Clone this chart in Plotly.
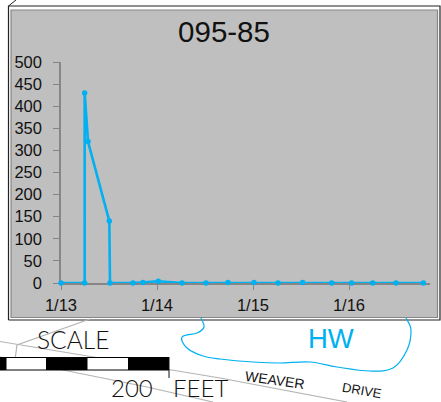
import plotly.graph_objects as go

W, H = 441, 402
TITLE = "095-85"
times = ["2016-01-13 00:00", "2016-01-13 05:55", "2016-01-13 05:55", "2016-01-13 06:45",
         "2016-01-13 12:05", "2016-01-13 12:15", "2016-01-13 18:00", "2016-01-13 20:30",
         "2016-01-14 00:20", "2016-01-14 06:15", "2016-01-14 12:15", "2016-01-14 17:45",
         "2016-01-15 00:15", "2016-01-15 06:15", "2016-01-15 12:25", "2016-01-15 19:40",
         "2016-01-16 00:40", "2016-01-16 05:55", "2016-01-16 11:45", "2016-01-16 18:35"]
values = [0, 0, 430, 320, 140, 0, 0, 1, 4, 0, 0, 1, 1, 0, 1, 0, 0, 0, 0, 0]
x_tick_vals = ["2016-01-13", "2016-01-14", "2016-01-15", "2016-01-16"]
x_tick_text = ["1/13", "1/14", "1/15", "1/16"]
y_tick_vals = [0, 50, 100, 150, 200, 250, 300, 350, 400, 450, 500]

BLUE = "#00B0F0"
GREY = "#BFBFBF"
AXIS = "#868686"
ROAD = "#B4B4B4"
FONT = "Liberation Sans"

px = lambda x: x / W
py = lambda y: 1 - y / H


def rect(x0, y0, x1, y1, fill="rgba(0,0,0,0)", line=None, lw=1, layer="above"):
    return dict(type="rect", xref="paper", yref="paper", x0=px(x0), x1=px(x1), y0=py(y0), y1=py(y1),
                fillcolor=fill, line=dict(color=line or "rgba(0,0,0,0)", width=lw if line else 0), layer=layer)


def seg(pts, color=ROAD, lw=1.2, layer="above"):
    d = "M " + " L ".join(f"{px(x):.5f} {py(y):.5f}" for x, y in pts)
    return dict(type="path", xref="paper", yref="paper", path=d, line=dict(color=color, width=lw), layer=layer)


def smooth(pts, color, lw):
    p = [pts[0]] + pts + [pts[-1]]
    d = f"M {px(pts[0][0]):.5f} {py(pts[0][1]):.5f}"
    for i in range(1, len(p) - 2):
        c1 = (p[i][0] + (p[i + 1][0] - p[i - 1][0]) / 6, p[i][1] + (p[i + 1][1] - p[i - 1][1]) / 6)
        c2 = (p[i + 1][0] - (p[i + 2][0] - p[i][0]) / 6, p[i + 1][1] - (p[i + 2][1] - p[i][1]) / 6)
        d += (f" C {px(c1[0]):.5f} {py(c1[1]):.5f} {px(c2[0]):.5f} {py(c2[1]):.5f}"
              f" {px(p[i + 1][0]):.5f} {py(p[i + 1][1]):.5f}")
    return dict(type="path", xref="paper", yref="paper", path=d, line=dict(color=color, width=lw), layer="above")


outline = [(201, 318), (204, 327), (197, 333), (182, 337), (187, 348), (203, 356), (220, 359),
           (253, 362), (280, 363), (310, 362), (337, 367), (370, 371), (393, 368), (407, 350),
           (411, 330), (406, 318)]

shapes = [
    seg([(8.5, 6), (16, 0)], "#222222", 1, "below"),
    seg([(8.5, 320), (8.5, 6), (440, 6), (440, 320), (8.5, 320)], "#222222", 1.2, "below"),
    rect(11, 10, 437.5, 317.5, GREY, AXIS, 1.2, "below"),
    seg([(0, 341.5), (220, 378), (347, 402)]),
    seg([(0, 357), (63, 370), (147, 387), (213, 402)]),
    seg([(90, 319), (17, 345), (15, 360)]),
    rect(0, 357, 169, 370.5, "#000000"),
    rect(6.5, 358, 46, 369.5, "#FFFFFF"),
    rect(87.5, 358, 128, 369.5, "#FFFFFF"),
    seg([(169, 357), (169, 378)], "#111111", 1),
    smooth(outline, BLUE, 1.2),
]


def label(text, x, y, size, color="#111111", angle=0, family=FONT, weight=None):
    f = dict(family=family, size=size, color=color)
    if weight:
        f["weight"] = weight
    return dict(text=text, xref="paper", yref="paper", x=px(x), y=py(y), showarrow=False,
                xanchor="center", yanchor="middle", textangle=angle, font=f)


annotations = [
    label("SCALE", 72.5, 339, 24.5, family="Lato", weight=300),
    label("200", 132, 387.5, 24, family="Lato", weight=300),
    label("FEET", 200, 387.5, 24, family="Lato", weight=300),
    label("WEAVER", 275, 380, 14, angle=8),
    label("DRIVE", 362, 390.5, 13, angle=10),
    label("HW", 331, 338, 27.5, color=BLUE),
]

fig = go.Figure(go.Scatter(
    x=times, y=values, mode="lines+markers", cliponaxis=False,
    line=dict(color=BLUE, width=2.6), marker=dict(color=BLUE, size=5.5),
    showlegend=False, hoverinfo="skip"))

fig.update_layout(
    width=W, height=H, autosize=False,
    margin=dict(l=0, r=0, t=0, b=0, pad=0, autoexpand=False),
    paper_bgcolor="#FFFFFF", plot_bgcolor="rgba(0,0,0,0)",
    title=dict(text=TITLE, x=224 / W, xanchor="center", y=1 - 32 / H, yanchor="middle",
               font=dict(family=FONT, size=29.5, color="#111111")),
    shapes=shapes, annotations=annotations,
    xaxis=dict(type="date", domain=[px(61), px(430)], range=["2016-01-13 00:00", "2016-01-16 20:15"],
               tickmode="array", tickvals=x_tick_vals, ticktext=x_tick_text, automargin=False,
               ticks="outside", ticklen=5, tickwidth=1.2, tickcolor=AXIS, showgrid=False, layer="below traces",
               showline=True, linecolor=AXIS, linewidth=1.5, zeroline=False, ticklabelstandoff=1,
               tickfont=dict(family=FONT, size=16.5, color="#111111"), anchor="y"),
    yaxis=dict(domain=[py(283), py(62)], range=[0, 500], tickmode="array", tickvals=y_tick_vals, automargin=False,
               ticks="outside", ticklen=6, tickwidth=1.2, tickcolor=AXIS, showgrid=False, layer="below traces",
               showline=True, linecolor=AXIS, linewidth=1.5, zeroline=False, ticklabelstandoff=8,
               tickfont=dict(family=FONT, size=16.5, color="#111111"), anchor="x"),
)

fig.write_html("out.html", config={"displayModeBar": False},
               post_script="document.body.style.margin='0';document.body.style.overflow='hidden';")
